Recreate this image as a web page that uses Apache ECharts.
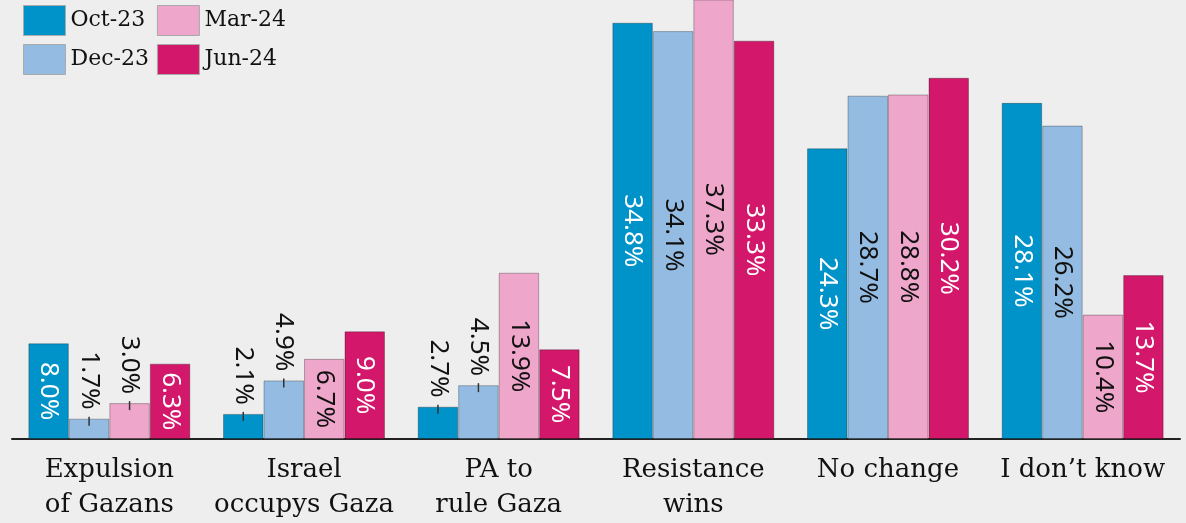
<!DOCTYPE html>
<html>
<head>
<meta charset="utf-8">
<script src="https://cdn.jsdelivr.net/npm/echarts@6/dist/echarts.min.js"></script>
<style>
  html, body { margin: 0; padding: 0; background: #eeeeee; }
  #chart { width: 1186px; height: 523px; }
</style>
</head>
<body>
<div id="chart"></div>
<script>
// categories and survey values (%)
const categories = ['Expulsion\nof Gazans', 'Israel\noccupys Gaza', 'PA to\nrule Gaza', 'Resistance\nwins', 'No change', 'I don’t know']
const oct23 = [8.0, 2.1, 2.7, 34.8, 24.3, 28.1]
const dec23 = [1.7, 4.9, 4.5, 34.1, 28.7, 26.2]
const mar24 = [3.0, 6.7, 13.9, 37.3, 28.8, 10.4]
const jun24 = [6.3, 9.0, 7.5, 33.3, 30.2, 13.7]

const SERIF = 'DejaVu Serif'
const SANS = 'Noto Sans'

// label goes above the bar when it won't fit inside
const SMALL = 5

function makeSeries (name, values, color, textColor) {
  return {
    name: name,
    type: 'bar',
    barGap: '0%',
    barCategoryGap: '16.8%',
    itemStyle: { color: color, borderColor: 'rgba(0,0,0,0.28)', borderWidth: 1 },
    label: {
      show: true,
      position: 'inside',
      rotate: -90,
      fontFamily: SANS,
      fontSize: 26,
      color: textColor,
      formatter: p => p.value.toFixed(1) + '%'
    },
    data: values.map(v => {
      if (v >= SMALL) return v
      return {
        value: v,
        label: {
          position: 'top',
          distance: -7,
          align: 'right',
          verticalAlign: 'middle',
          color: '#111',
          formatter: p => '{v|' + p.value.toFixed(1) + '%}{s| }{d| }',
          rich: {
            v: { fontFamily: SANS, fontSize: 26, color: '#111' },
            s: { width: 7 },
            d: { width: 9, height: 1.5, backgroundColor: '#333' }
          }
        }
      }
    })
  }
}

const chart = echarts.init(document.getElementById('chart'))

chart.setOption({
  backgroundColor: '#eeeeee',
  animation: false,
  legend: {
    orient: 'vertical',
    left: 23,
    top: 5,
    height: 70,
    padding: 0,
    itemWidth: 42,
    itemHeight: 30,
    itemGap: 8,
    icon: 'rect',
    itemStyle: { borderColor: '#aaaaaa', borderWidth: 1 },
    textStyle: { fontFamily: SERIF, fontSize: 22, color: '#111' },
    data: ['Oct-23', 'Dec-23', 'Mar-24', 'Jun-24']
  },
  grid: { left: 12, right: 6, top: 0, bottom: 83 },
  xAxis: {
    type: 'category',
    data: categories,
    axisLine: { lineStyle: { color: '#222', width: 2 } },
    axisTick: { show: false },
    axisLabel: {
      interval: 0,
      margin: 14,
      fontFamily: SERIF,
      fontSize: 26,
      lineHeight: 35,
      color: '#111'
    }
  },
  yAxis: {
    type: 'value',
    min: 0,
    max: 36.7,
    show: false,
    splitLine: { show: false }
  },
  series: [
    makeSeries('Oct-23', oct23, '#0093c9', '#ffffff'),
    makeSeries('Dec-23', dec23, '#94bce2', '#111111'),
    makeSeries('Mar-24', mar24, '#eea6ca', '#111111'),
    makeSeries('Jun-24', jun24, '#d3176b', '#ffffff')
  ]
})

window.addEventListener('resize', () => chart.resize())
</script>
</body>
</html>
